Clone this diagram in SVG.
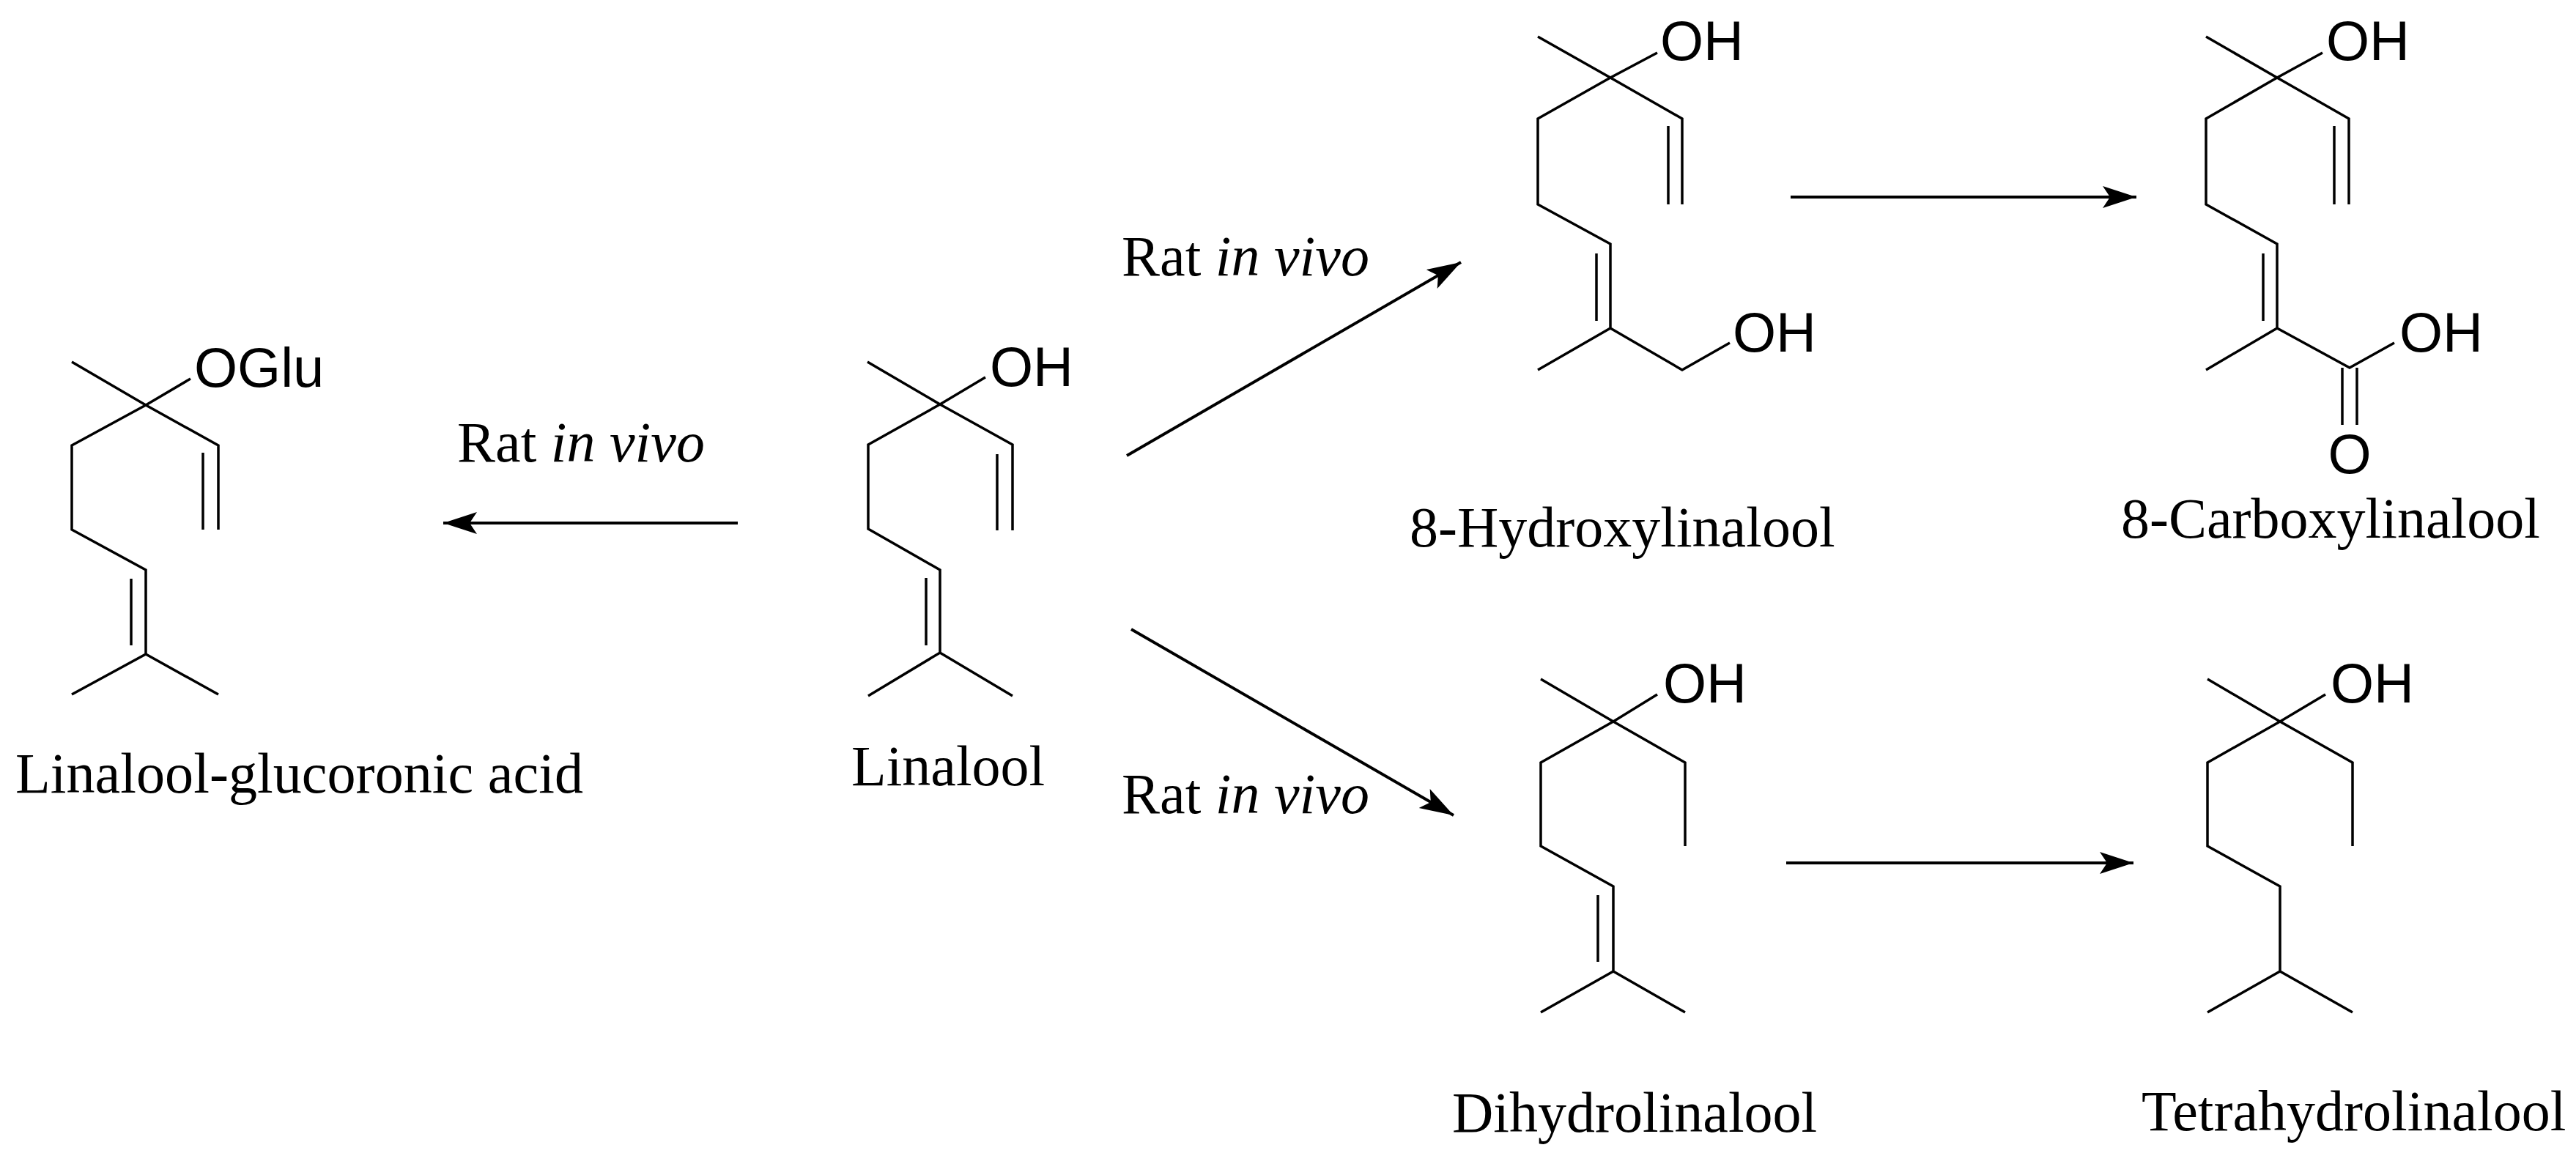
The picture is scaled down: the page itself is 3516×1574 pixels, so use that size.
<svg xmlns="http://www.w3.org/2000/svg" width="3516" height="1574" viewBox="0 0 3516 1574">
<style>
.b{fill:none;stroke:#000;stroke-width:3.5;stroke-linecap:butt;stroke-linejoin:miter}
.a{fill:none;stroke:#000;stroke-width:4;marker-end:url(#ah)}
.at{font-family:"Liberation Sans",Arial,sans-serif;font-size:76px;fill:#000}
.lb{font-family:"Liberation Serif","Times New Roman",serif;font-size:78px;fill:#000}
.it{font-style:italic}
</style>
<defs>
<marker id="ah" markerUnits="userSpaceOnUse" markerWidth="50" markerHeight="34" refX="46" refY="15" orient="auto">
<path d="M0,0 L46,15 L0,30 L10,15 Z" fill="#000"/>
</marker>
</defs>
<rect width="3516" height="1574" fill="#fff"/>

<g id="glucuronide">
<path class="b" d="M98,494 L199,553 L260,517 M199,553 L298,608 L298,723 M277,618 L277,723 M199,553 L98,608 L98,723 L199,778 L199,893 M179,790 L179,881 M98,948 L199,893 L298,948"/>
<text class="at" x="265" y="528">OGlu</text>
<text class="lb" x="21" y="1082" textLength="775" lengthAdjust="spacingAndGlyphs">Linalool-glucoronic acid</text>
</g>

<g id="linalool">
<path class="b" d="M1184,494 L1283,552 L1345,515 M1283,552 L1382,607 L1382,724 M1361,620 L1361,724 M1283,552 L1185,607 L1185,722 L1283,778 L1283,891 M1264,789 L1264,881 M1185,950 L1283,891 L1382,950"/>
<text class="at" x="1351" y="527">OH</text>
<text class="lb" x="1162" y="1072">Linalool</text>
</g>

<g id="hydroxylinalool">
<path class="b" d="M2099,50 L2198,106 L2262,72 M2198,106 L2296,162 L2296,279 M2277,172 L2277,279 M2198,106 L2099,162 L2099,279 L2198,333 L2198,448 M2179,346 L2179,438 M2099,505 L2198,448 L2296,505 L2361,468"/>
<text class="at" x="2266" y="82">OH</text>
<text class="at" x="2365" y="480">OH</text>
<text class="lb" x="1924" y="746">8-Hydroxylinalool</text>
</g>

<g id="carboxylinalool">
<path class="b" d="M3011,50 L3108,106 L3170,72 M3108,106 L3206,162 L3206,279 M3186,172 L3186,279 M3108,106 L3011,162 L3011,279 L3108,333 L3108,448 M3089,346 L3089,438 M3011,505 L3108,448 L3207,502 L3268,468 M3197,502 L3197,580 M3217,502 L3217,580"/>
<text class="at" x="3175" y="82">OH</text>
<text class="at" x="3275" y="480">OH</text>
<text class="at" x="3207" y="646" text-anchor="middle">O</text>
<text class="lb" x="2895" y="734">8-Carboxylinalool</text>
</g>

<g id="dihydrolinalool">
<path class="b" d="M2103,927 L2202,985 L2262,948 M2202,985 L2300,1041 L2300,1155 M2202,985 L2103,1041 L2103,1155 L2202,1210 L2202,1326 M2181,1222 L2181,1313 M2103,1382 L2202,1326 L2300,1382"/>
<text class="at" x="2270" y="959">OH</text>
<text class="lb" x="1982" y="1545">Dihydrolinalool</text>
</g>

<g id="tetrahydrolinalool">
<path class="b" d="M3013,927 L3112,985 L3174,948 M3112,985 L3211,1041 L3211,1155 M3112,985 L3013,1041 L3013,1155 L3112,1210 L3112,1326 M3013,1382 L3112,1326 L3211,1382"/>
<text class="at" x="3181" y="959">OH</text>
<text class="lb" x="2923" y="1543">Tetrahydrolinalool</text>
</g>

<g id="connectors">
<line class="a" x1="1007" y1="714" x2="605" y2="714"/>
<line class="a" x1="1538" y1="622" x2="1994" y2="358"/>
<line class="a" x1="1544" y1="859" x2="1984" y2="1113"/>
<line class="a" x1="2444" y1="269" x2="2916" y2="269"/>
<line class="a" x1="2438" y1="1178" x2="2912" y2="1178"/>
</g>

<g id="labels">
<text class="lb" x="624" y="630">Rat <tspan class="it">in vivo</tspan></text>
<text class="lb" x="1531" y="376">Rat <tspan class="it">in vivo</tspan></text>
<text class="lb" x="1531" y="1110">Rat <tspan class="it">in vivo</tspan></text>
</g>
</svg>
